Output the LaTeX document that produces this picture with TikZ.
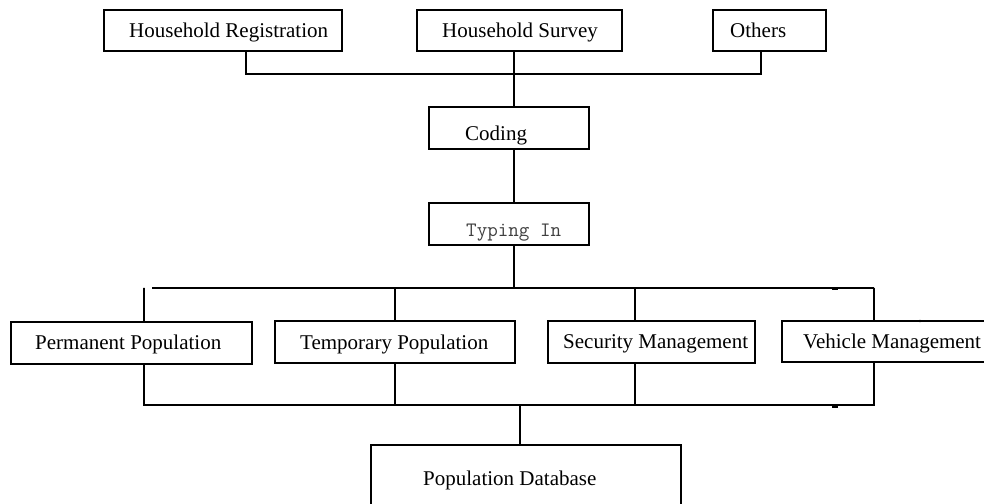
\documentclass[tikz,border=0pt]{standalone}
\usepackage{fontspec}
\setmainfont{Liberation Serif}
\begin{document}
\begin{tikzpicture}[x=1bp,y=-1bp,
  box/.style={draw, line width=1.6bp, inner sep=0pt, rectangle},
  wire/.style={line width=1.6bp},
  lbl/.style={anchor=base west, inner sep=0pt, font=\fontsize{21bp}{25bp}\selectfont},
  monolbl/.style={anchor=base west, inner sep=0pt, text=black!75,
                  font=\fontsize{20.5bp}{24bp}\selectfont\ttfamily}]
\useasboundingbox (0,0) rectangle (984,504);

% source boxes
\node[box, minimum width=238bp, minimum height=41bp] (reg) at (223,30.5) {};
\node[box, minimum width=205bp, minimum height=41bp] (svy) at (519.5,30.5) {};
\node[box, minimum width=113bp, minimum height=41bp] (oth) at (769.5,30.5) {};
\node[lbl] (regT) at (129,38) {Household Registration};
\node[lbl] (svyT) at (442,38) {Household Survey};
\node[lbl] (othT) at (730,38) {Others};

% processing steps
\node[box, minimum width=160bp, minimum height=42bp] (cod) at (509,128) {};
\node[box, minimum width=160bp, minimum height=42bp] (typ) at (509,224) {};
\node[lbl] (codT) at (465,141) {Coding};
\node[monolbl] (typT) at (466,237) {Typing In};

% subsystem boxes
\node[box, minimum width=241bp, minimum height=42bp] (perm) at (131.5,343) {};
\node[box, minimum width=240bp, minimum height=42bp] (temp) at (395,342) {};
\node[box, minimum width=207bp, minimum height=42bp] (sec) at (651.5,342) {};
\node[box, minimum width=220bp, minimum height=41bp] (veh) at (892,341.5) {};
\node[lbl] (permT) at (35,350) {Permanent Population};
\node[lbl] (tempT) at (300,350) {Temporary Population};
\node[lbl] (secT) at (563,349) {Security Management};
\node[lbl] (vehT) at (803,349) {Vehicle Management};

% target database
\node[box, minimum width=310bp, minimum height=61bp] (db) at (526,475.5) {};
\node[lbl] (dbT) at (423,485) {Population Database};

% upper collector
\coordinate (tl) at (246,74);
\coordinate (tr) at (761,74);
\draw[wire] ([xshift=23bp]reg.south) -- (tl) -- (tr) -- ([xshift=-8.5bp]oth.south);
\draw[wire] ([xshift=-5.5bp]svy.south) -- ([xshift=5bp]cod.north);
\draw[wire] ([xshift=5bp]cod.south) -- ([xshift=5bp]typ.north);

% distribution bus
\coordinate (ml) at (152,288);
\coordinate (mr) at (874,288);
\coordinate (mm) at (514,288);
\draw[wire] ([xshift=5bp]typ.south) -- (mm);
\draw[wire] (ml) -- (mr);
\draw[wire] (144,288) -- ([xshift=12.5bp]perm.north);
\draw[wire] (temp.north |- mm) -- (temp.north);
\draw[wire] ([xshift=-16.5bp]sec.north |- mm) -- ([xshift=-16.5bp]sec.north);
\draw[wire] (mr) -- ([xshift=-18bp]veh.north);

% collection bus
\coordinate (bl) at (144,405);
\coordinate (br) at (874,405);
\draw[wire] ([xshift=12.5bp]perm.south) -- (bl) -- (br) -- ([xshift=-18bp]veh.south);
\draw[wire] (temp.south) -- (temp.south |- bl);
\draw[wire] ([xshift=-16.5bp]sec.south) -- ([xshift=-16.5bp]sec.south |- bl);
\draw[wire] ([xshift=-6bp]db.north |- bl) -- ([xshift=-6bp]db.north);

% small stray marks
\fill (832,287) rectangle (838,290);
\fill (832,404) rectangle (838,407.5);
\fill (920,321) circle (1.3);
\end{tikzpicture}
\end{document}
